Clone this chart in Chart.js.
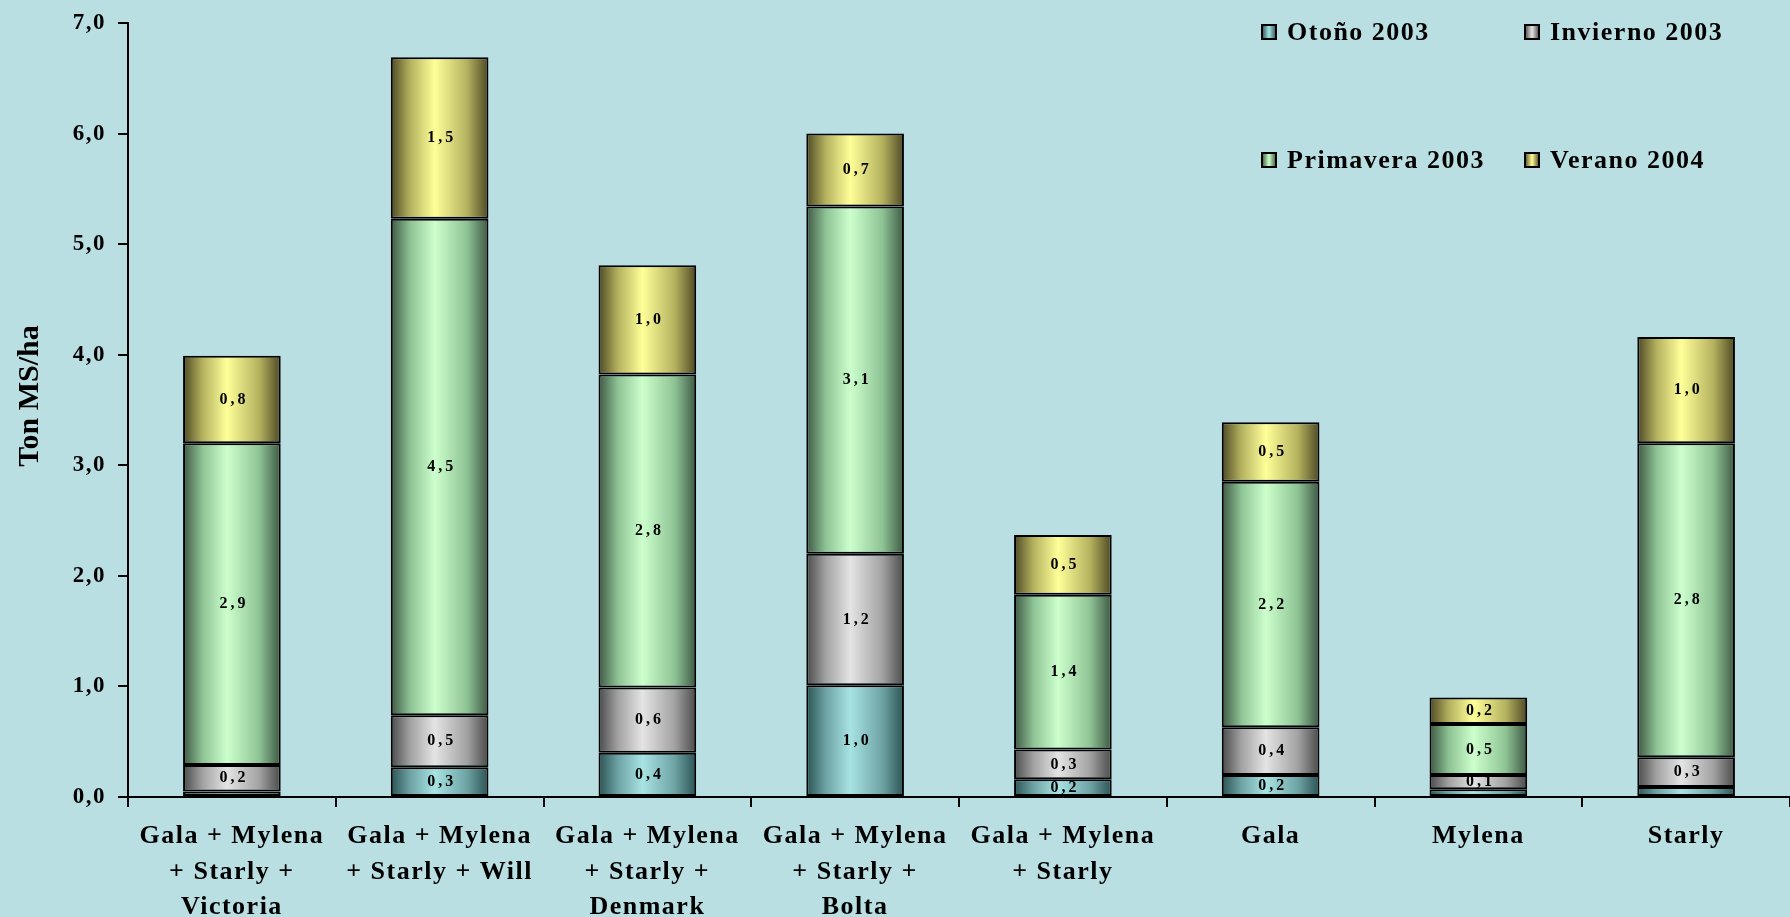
<!DOCTYPE html>
<html>
<head>
<meta charset="utf-8">
<script src="https://cdn.jsdelivr.net/npm/chart.js@4.4.1/dist/chart.umd.min.js"></script>
<style>
  html, body { margin: 0; padding: 0; background: #badfe2; }
  #wrap { width: 1790px; height: 917px; position: relative; }
</style>
</head>
<body>
<div id="wrap"><canvas id="chart"></canvas></div>
<script>
// data (Ton MS/ha)
const categories = [
  ['Gala + Mylena', '+ Starly +', 'Victoria'],
  ['Gala + Mylena', '+ Starly + Will'],
  ['Gala + Mylena', '+ Starly +', 'Denmark'],
  ['Gala + Mylena', '+ Starly +', 'Bolta'],
  ['Gala + Mylena', '+ Starly'],
  'Gala',
  'Mylena',
  'Starly'
];
const seriesNames = ['Otoño 2003', 'Invierno 2003', 'Primavera 2003', 'Verano 2004'];
const otono     = [0.05, 0.27, 0.40, 1.01, 0.16, 0.20, 0.07, 0.09];
const invierno  = [0.24, 0.47, 0.59, 1.19, 0.27, 0.43, 0.13, 0.27];
const primavera = [2.91, 4.49, 2.83, 3.14, 1.40, 2.22, 0.46, 2.84];
const verano    = [0.79, 1.46, 0.99, 0.66, 0.54, 0.54, 0.24, 0.96];
const yTicks = [0, 1, 2, 3, 4, 5, 6, 7];
const yTitle = 'Ton MS/ha';

const BAR_PCT = 0.47;
const SERIF = '"Liberation Serif", "Times New Roman", serif';

// dark edge / mid / highlight for the "cylinder" look
const palettes = [
  ['#2b5253', '#6ea3a4', '#a8e3e3'],
  ['#4a4a4a', '#a2a2a2', '#e4e4e4'],
  ['#3d5843', '#8ec395', '#ccffcc'],
  ['#4d4925', '#b5b25f', '#ffff99']
];

function cylinder(p) {
  return function (context) {
    const chart = context.chart;
    const xs = chart.scales.x;
    if (!chart.chartArea || !xs || context.dataIndex === undefined) return p[2];
    const cx = xs.getPixelForValue(context.dataIndex);
    const half = xs.width / categories.length * BAR_PCT / 2;
    const g = chart.ctx.createLinearGradient(cx - half, 0, cx + half, 0);
    g.addColorStop(0, p[0]);
    g.addColorStop(0.2, p[1]);
    g.addColorStop(0.45, p[2]);
    g.addColorStop(0.78, p[1]);
    g.addColorStop(1, p[0]);
    return g;
  };
}

const fmt = v => v.toFixed(1).replace('.', ',');

// the original text is set loosely, give the axis labels a bit of tracking
const tracking = {
  id: 'tracking',
  beforeDraw(chart) { chart.ctx.letterSpacing = '1.5px'; }
};

// numbers inside the segments
const valueLabels = {
  id: 'valueLabels',
  afterDatasetsDraw(chart) {
    const ctx = chart.ctx;
    ctx.save();
    ctx.font = 'bold 16px ' + SERIF;
    ctx.letterSpacing = '3px';
    ctx.fillStyle = '#000';
    ctx.textAlign = 'center';
    ctx.textBaseline = 'middle';
    chart.data.datasets.forEach((ds, i) => {
      chart.getDatasetMeta(i).data.forEach((bar, j) => {
        const v = ds.data[j];
        if (v < 0.1) return;
        ctx.fillText(fmt(v), bar.x + 2, (bar.y + bar.base) / 2);
      });
    });
    ctx.restore();
  }
};

// y title sits a little above the middle of the axis in the original
const sideTitle = {
  id: 'sideTitle',
  afterDraw(chart) {
    const ctx = chart.ctx;
    ctx.save();
    ctx.translate(30, 396);
    ctx.rotate(-Math.PI / 2);
    ctx.font = 'bold 30px ' + SERIF;
    ctx.letterSpacing = '0px';
    ctx.fillStyle = '#000';
    ctx.textAlign = 'center';
    ctx.textBaseline = 'middle';
    ctx.fillText(yTitle, 0, 0);
    ctx.restore();
  }
};

// 2x2 legend in the top right corner
const cornerLegend = {
  id: 'cornerLegend',
  afterDraw(chart) {
    const ctx = chart.ctx;
    const spots = [[1262, 32], [1525, 32], [1262, 160], [1525, 160]];
    ctx.save();
    ctx.font = 'bold 26px ' + SERIF;
    ctx.letterSpacing = '1.5px';
    ctx.textBaseline = 'middle';
    chart.data.datasets.forEach((ds, i) => {
      const [x, y] = spots[i];
      const p = palettes[i];
      const g = ctx.createLinearGradient(x, 0, x + 14, 0);
      g.addColorStop(0, p[0]);
      g.addColorStop(0.5, p[2]);
      g.addColorStop(1, p[0]);
      ctx.fillStyle = g;
      ctx.fillRect(x, y - 7, 14, 14);
      ctx.strokeStyle = '#000';
      ctx.lineWidth = 2;
      ctx.strokeRect(x, y - 7, 14, 14);
      ctx.fillStyle = '#000';
      ctx.fillText(ds.label, x + 25, y + 1);
    });
    ctx.restore();
  }
};

const seriesData = [otono, invierno, primavera, verano];

new Chart(document.getElementById('chart'), {
  type: 'bar',
  data: {
    labels: categories,
    datasets: seriesNames.map((name, i) => ({
      label: name,
      data: seriesData[i],
      backgroundColor: cylinder(palettes[i]),
      borderColor: '#000',
      borderWidth: 2,
      borderSkipped: false,
      barPercentage: BAR_PCT,
      categoryPercentage: 1
    }))
  },
  options: {
    responsive: true,
    maintainAspectRatio: false,
    animation: false,
    layout: { padding: { top: 23, right: 0, left: 0, bottom: 0 } },
    plugins: {
      legend: { display: false },
      tooltip: { enabled: false }
    },
    scales: {
      x: {
        stacked: true,
        afterFit: s => { s.height = 120; },
        grid: { offset: true, drawOnChartArea: false, drawTicks: true, tickLength: 10, color: '#000', lineWidth: 2 },
        border: { display: true, color: '#000', width: 2 },
        ticks: {
          color: '#000',
          font: { family: SERIF, size: 26, weight: 'bold', lineHeight: 1.36 },
          padding: 12,
          maxRotation: 0,
          autoSkip: false
        }
      },
      y: {
        stacked: true,
        min: yTicks[0],
        max: yTicks[yTicks.length - 1],
        afterFit: s => { s.width = 128; s.paddingTop = 0; s.paddingBottom = 0; },
        afterBuildTicks: s => { s.ticks = yTicks.map(v => ({ value: v })); },
        grid: { drawOnChartArea: false, drawTicks: true, tickLength: 10, color: '#000', lineWidth: 2 },
        border: { display: true, color: '#000', width: 2 },
        ticks: {
          color: '#000',
          font: { family: SERIF, size: 23, weight: 'bold' },
          padding: 12,
          callback: v => fmt(v)
        },
        title: { display: false }
      }
    }
  },
  plugins: [tracking, valueLabels, sideTitle, cornerLegend]
});
</script>
</body>
</html>
